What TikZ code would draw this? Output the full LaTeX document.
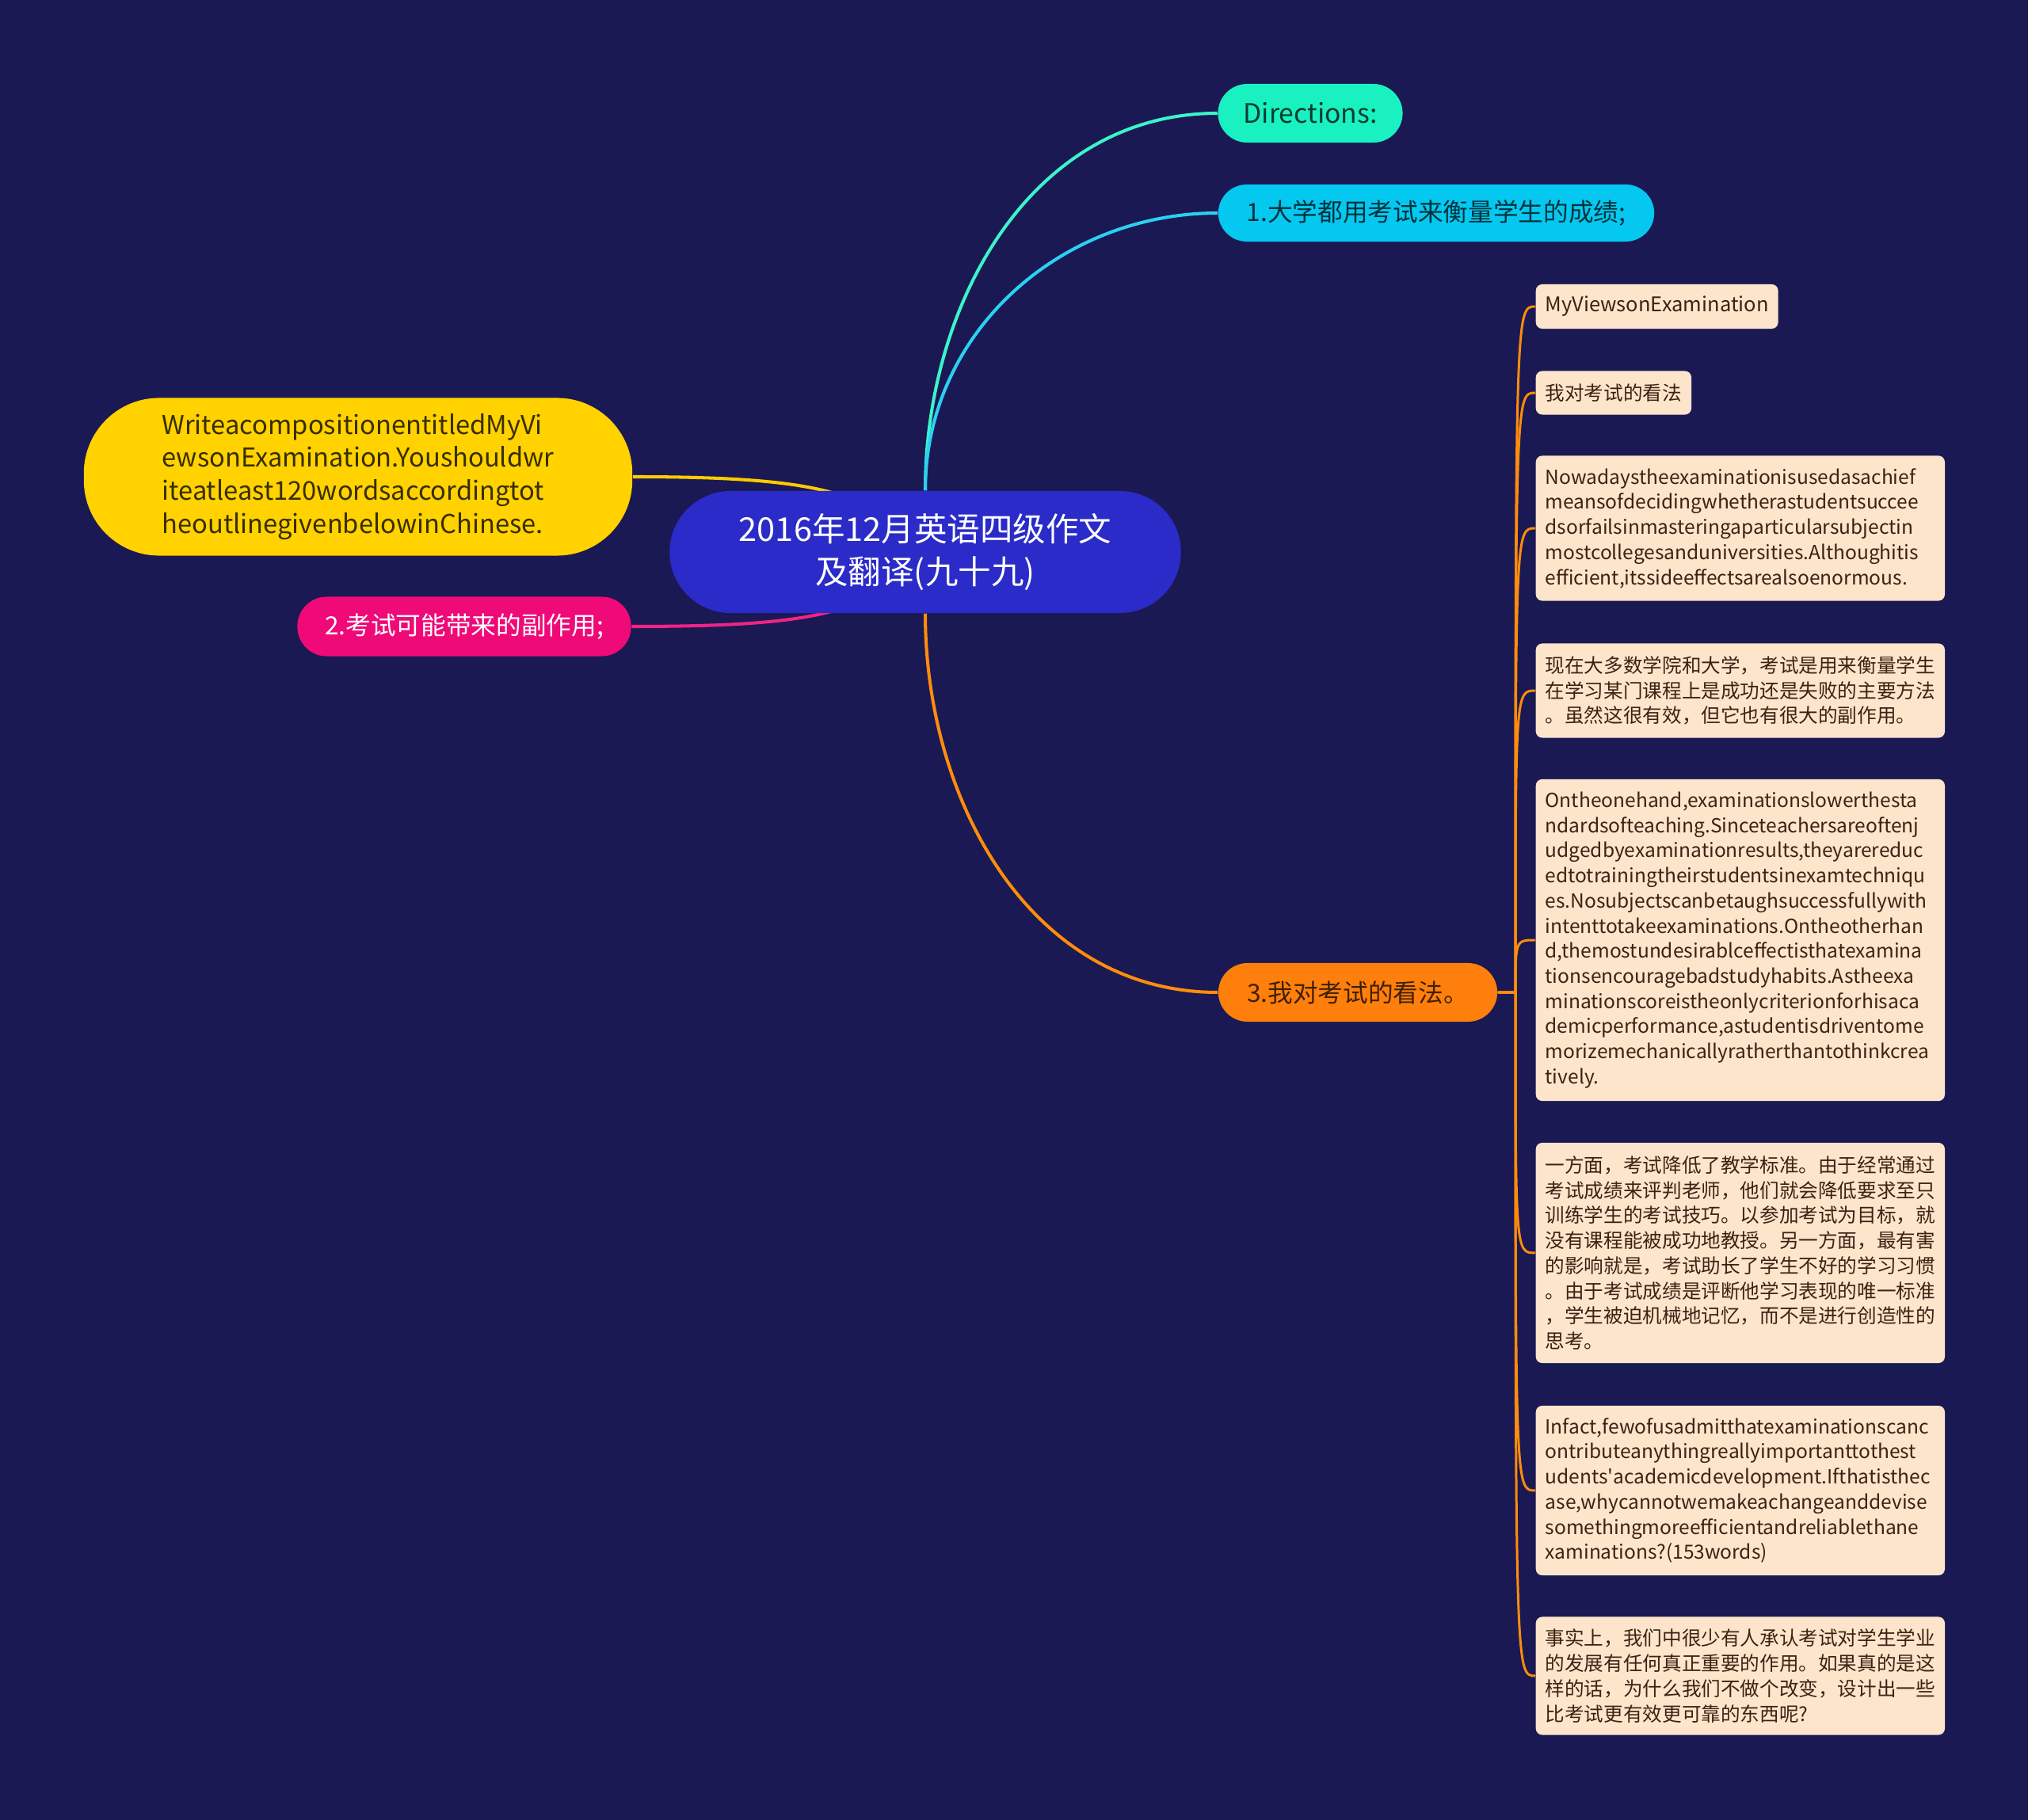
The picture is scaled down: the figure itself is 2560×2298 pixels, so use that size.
\documentclass[tikz,border=0pt]{standalone}
\usepackage{fontspec}
\setmainfont{Noto Sans CJK SC}
\usetikzlibrary{backgrounds}

\definecolor{bgnavy}{HTML}{1A1953}
\definecolor{rootblue}{HTML}{2B2BC9}
\definecolor{mint}{HTML}{19F2C0}
\definecolor{skycyan}{HTML}{05C8F0}
\definecolor{sunyellow}{HTML}{FFD200}
\definecolor{hotpink}{HTML}{EF0A78}
\definecolor{deeporange}{HTML}{FF7F0D}
\definecolor{peach}{HTML}{FDE5CC}
\definecolor{notetext}{HTML}{3B2314}

\tikzset{
  link/.style={line width=1.15pt},
  sublink/.style={line width=0.85pt, draw=deeporange!90!yellow},
  pill/.style={minimum height=0.74cm, rounded corners=0.37cm, inner sep=0pt,
    align=center, font=\fontsize{9}{11}\selectfont},
  note/.style={fill=peach, text=notetext, rounded corners=0.08cm, anchor=west,
    inner xsep=0.12cm, inner ysep=0pt, align=left, font=\fontsize{7.25}{9.02}\selectfont},
  longnote/.style={note, text width=4.92cm, font=\fontsize{6.98}{9.02}\selectfont},
  cnnote/.style={longnote, font=\fontsize{7}{9.02}\selectfont}
}

\begin{document}
\begin{tikzpicture}[x=0.01cm, y=-0.01cm]
    \useasboundingbox (0,0) rectangle (2560,2298);

    % Draw nodes
    \node[fill=rootblue, text=white, minimum width=6.45cm, minimum height=1.54cm,
      rounded corners=0.77cm, align=center, font=\fontsize{11.8}{15.4}\selectfont]
      (root) at (1168,697) {2016年12月英语四级作文\\及翻译(九十九)};
    \node[pill, fill=mint, text=mint!25!black, minimum width=2.33cm,
      font=\fontsize{9.6}{11}\selectfont] (dirs) at (1654,143) {Directions:};
    \node[pill, fill=skycyan, text=skycyan!25!black, minimum width=5.50cm,
      minimum height=0.72cm, rounded corners=0.36cm] (pt1) at (1813,269) {1.大学都用考试来衡量学生的成绩;};
    \node[fill=sunyellow, text=sunyellow!22!black, minimum width=6.92cm, minimum height=1.99cm,
      rounded corners=0.95cm, align=left, font=\fontsize{9.3}{11.9}\selectfont]
      (task) at (452,602) {WriteacompositionentitledMyVi\\ewsonExamination.Youshouldwr\\iteatleast120wordsaccordingtot\\heoutlinegivenbelowinChinese.};
    \node[pill, fill=hotpink, text=white, minimum width=4.21cm, minimum height=0.75cm]
      (pt2) at (586,791) {2.考试可能带来的副作用;};
    \node[pill, fill=deeporange, text=deeporange!25!black, minimum width=3.52cm]
      (pt3) at (1714,1253) {3.我对考试的看法。};

    % Notes under point 3
    \node[note, minimum height=0.56cm] (n1) at (1938,387) {MyViewsonExamination};
    \node[note, minimum height=0.55cm, font=\fontsize{7}{9.02}\selectfont] (n2) at (1938,496) {我对考试的看法};
    \node[longnote, minimum height=1.83cm] (n3) at (1938,667) {Nowadaystheexaminationisusedasachief\\meansofdecidingwhetherastudentsuccee\\dsorfailsinmasteringaparticularsubjectin\\mostcollegesanduniversities.Althoughitis\\efficient,itssideeffectsarealsoenormous.};
    \node[cnnote, minimum height=1.19cm] (n4) at (1938,872) {现在大多数学院和大学，考试是用来衡量学生\\在学习某门课程上是成功还是失败的主要方法\\。虽然这很有效，但它也有很大的副作用。};
    \node[longnote, minimum height=4.06cm] (n5) at (1938,1187) {Ontheonehand,examinationslowerthesta\\ndardsofteaching.Sinceteachersareoftenj\\udgedbyexaminationresults,theyarereduc\\edtotrainingtheirstudentsinexamtechniqu\\es.Nosubjectscanbetaughsuccessfullywith\\intenttotakeexaminations.Ontheotherhan\\d,themostundesirablceffectisthatexamina\\tionsencouragebadstudyhabits.Astheexa\\minationscoreistheonlycriterionforhisaca\\demicperformance,astudentisdriventome\\morizemechanicallyratherthantothinkcrea\\tively.};
    \node[cnnote, minimum height=2.78cm] (n6) at (1938,1582) {一方面，考试降低了教学标准。由于经常通过\\考试成绩来评判老师，他们就会降低要求至只\\训练学生的考试技巧。以参加考试为目标，就\\没有课程能被成功地教授。另一方面，最有害\\的影响就是，考试助长了学生不好的学习习惯\\。由于考试成绩是评断他学习表现的唯一标准\\，学生被迫机械地记忆，而不是进行创造性的\\思考。};
    \node[longnote, minimum height=2.14cm] (n7) at (1938,1882) {Infact,fewofusadmitthatexaminationscanc\\ontributeanythingreallyimportanttothest\\udents\textquotesingle academicdevelopment.Ifthatisthec\\ase,whycannotwemakeachangeanddevise\\somethingmoreefficientandreliablethane\\xaminations?(153words)};
    \node[cnnote, minimum height=1.49cm] (n8) at (1938,2116) {事实上，我们中很少有人承认考试对学生学业\\的发展有任何真正重要的作用。如果真的是这\\样的话，为什么我们不做个改变，设计出一些\\比考试更有效更可靠的东西呢?};

    \coordinate (hub) at (1913,1253);

    % Draw connections
    \begin{scope}[on background layer]
      \fill[bgnavy] (0,0) rectangle (2560,2298);
      \draw[link, draw=mint!85!white] (root.north) to[out=90, in=180] (dirs.west);
      \draw[link, draw=skycyan!85!white] (root.north) to[out=90, in=180] (pt1.west);
      \draw[link, draw=deeporange!90!yellow] (root.south) to[out=-90, in=180] (pt3.west);
      \draw[link, draw=sunyellow!90!orange] (task.east) .. controls (1050,602) and (1100,625) .. (root.center);
      \draw[link, draw=hotpink!90!white] (pt2.east) .. controls (1050,791) and (1100,770) .. (root.center);
      \foreach \n in {n1,n2,n3,n4,n5,n6,n7,n8}
        \draw[sublink] (pt3.east) -- (hub) .. controls (hub |- \n.west) .. (\n.west);
    \end{scope}
\end{tikzpicture}
\end{document}
